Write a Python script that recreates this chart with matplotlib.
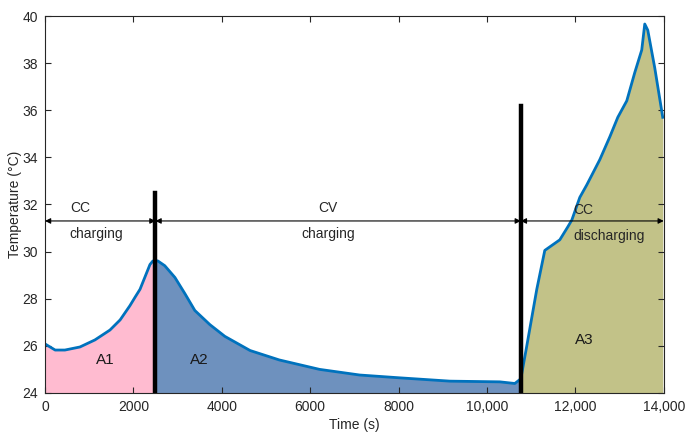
import numpy as np
import matplotlib.pyplot as plt

plt.rcParams['font.family'] = ['Liberation Sans', 'DejaVu Sans']

# temperature curve
time_s = [0, 230, 450, 790, 1130, 1470, 1700, 1920, 2040, 2150, 2375, 2440, 2500,
          2555, 2710, 2940, 3170, 3390, 3730, 4070, 4640, 5300, 6210, 7120, 8030,
          9160, 10290, 10630, 10766, 10901, 11127, 11308, 11648, 11829, 11920,
          12100, 12258, 12552, 12779, 12960, 13163, 13344, 13502, 13570, 13638, 13796, 13977]
temp_c = [26.08, 25.82, 25.82, 25.95, 26.25, 26.67, 27.1, 27.7, 28.07, 28.4, 29.45, 29.6, 29.62,
          29.6, 29.4, 28.9, 28.2, 27.5, 26.9, 26.4, 25.8, 25.4, 25.0, 24.76, 24.64,
          24.5, 24.47, 24.4, 24.6, 26.0, 28.4, 30.05, 30.5, 31.05, 31.34,
          32.3, 32.83, 33.9, 34.87, 35.7, 36.4, 37.6, 38.56, 39.66, 39.4, 37.8, 35.7]

t_cc_end = 2500
t_cv_end = 10766
area_labels = ['A1', 'A2', 'A3']
area_colors = ['#FFBBD0', '#6E91BE', '#C2C288']

t = np.array(time_s)
y = np.array(temp_c)

fig = plt.figure(figsize=(6.85, 4.4), dpi=100)
ax = fig.add_axes([0.0657, 0.107, 0.9033, 0.8566])

masks = [t <= t_cc_end, (t >= t_cc_end) & (t <= t_cv_end), t >= t_cv_end]
for m, c in zip(masks, area_colors):
    ax.fill_between(t[m], 24, y[m], color=c, linewidth=0)

ax.plot(t, y, color='#0072BD', linewidth=2)

# phase boundaries
ax.plot([t_cc_end, t_cc_end], [24, 32.5], color='black', linewidth=3.2)
ax.plot([t_cv_end, t_cv_end], [24, 36.2], color='black', linewidth=3.2)

# arrows
arrow_y = 31.3
bounds = [(0, t_cc_end), (t_cc_end, t_cv_end), (t_cv_end, 14000)]
for (a, b) in bounds:
    ax.annotate('', xy=(b, arrow_y), xytext=(a, arrow_y),
                arrowprops=dict(arrowstyle='<|-|>', color='black', lw=0.8,
                                mutation_scale=8, shrinkA=0, shrinkB=0))

txt = dict(fontsize=10, color='#262626')
ax.text(560, 31.55, 'CC', va='bottom', **txt)
ax.text(560, 31.05, 'charging', va='top', **txt)
ax.text(6400, 31.55, 'CV', va='bottom', ha='center', **txt)
ax.text(6400, 31.05, 'charging', va='top', ha='center', **txt)
ax.text(11950, 31.45, 'CC', va='bottom', **txt)
ax.text(11950, 30.95, 'discharging', va='top', **txt)

ax.text(1360, 25.4, area_labels[0], ha='center', va='center', fontsize=11, color='#1a1a1a')
ax.text(3500, 25.4, area_labels[1], ha='center', va='center', fontsize=11, color='#1a1a1a')
ax.text(12200, 26.25, area_labels[2], ha='center', va='center', fontsize=11, color='#1a1a1a')

ax.set_xlim(0, 14000)
ax.set_ylim(24, 40)
ax.set_xticks(range(0, 14001, 2000))
ax.set_xticklabels(['0', '2000', '4000', '6000', '8000', '10,000', '12,000', '14,000'])
ax.set_yticks(range(24, 41, 2))
ax.tick_params(direction='in', top=True, right=True, length=4, width=0.8,
               labelsize=10, colors='#262626', pad=5)
for s in ax.spines.values():
    s.set_color('#262626')
    s.set_linewidth(0.8)
ax.set_xlabel('Time (s)', fontsize=10, color='#262626', labelpad=3)
ax.set_ylabel('Temperature (°C)', fontsize=10, color='#262626', labelpad=0)

fig.savefig('out.png', dpi=100)
